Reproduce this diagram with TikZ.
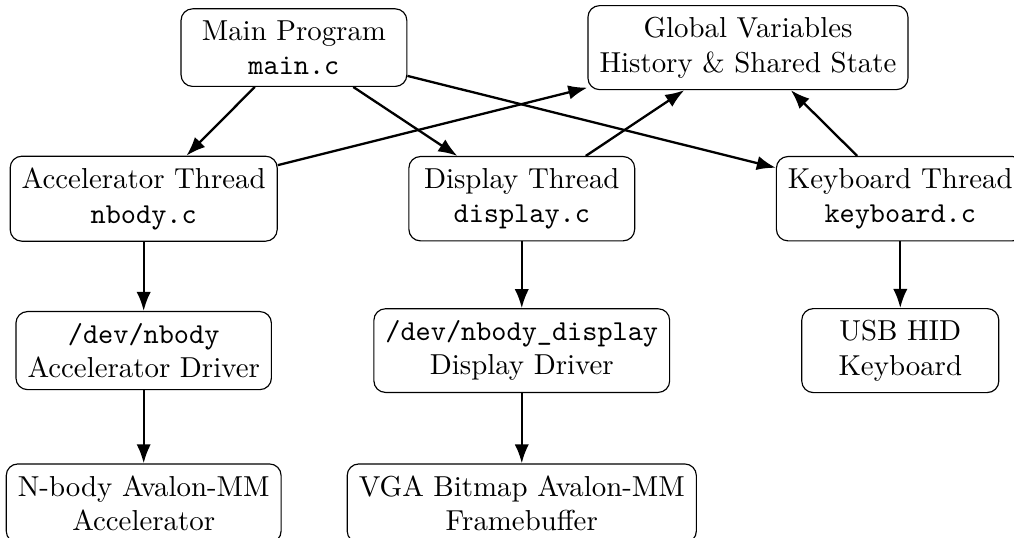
\documentclass[tikz,border=0pt]{standalone}
\usetikzlibrary{arrows.meta}
\begin{document}
\begin{tikzpicture}[>={Latex},
    box/.style={draw, rounded corners, align=center, inner sep=4pt, minimum width=2.4cm},
    widebox/.style={box, minimum width=2.75cm},
    link/.style={->, thick}]
    \useasboundingbox (-1.75,-5.97) rectangle (10.6,0.58);
    % top row
    \node[widebox] (main) at (1.83,0) {Main Program\\\texttt{main.c}};
    \node[box] (globals) at (7.36,0) {Global Variables\\History \& Shared State};
    % threads
    \node[box] (accthread) at (0,-1.84) {Accelerator Thread\\\texttt{nbody.c}};
    \node[widebox] (dispthread) at (4.605,-1.84) {Display Thread\\\texttt{display.c}};
    \node[box] (kbdthread) at (9.215,-1.84) {Keyboard Thread\\\texttt{keyboard.c}};
    % drivers
    \node[box] (accdrv) at (0,-3.69) {\texttt{/dev/nbody}\\Accelerator Driver};
    \node[box] (dispdrv) at (4.605,-3.69) {\texttt{/dev/nbody\_display}\\Display Driver};
    \node[box] (usbkbd) at (9.215,-3.69) {USB HID\\Keyboard};
    % hardware
    \node[box] (acchw) at (0,-5.55) {N-body Avalon-MM\\Accelerator};
    \node[box] (vgahw) at (4.605,-5.55) {VGA Bitmap Avalon-MM\\Framebuffer};
    \draw[link] (main) -- (accthread);
    \draw[link] (main) -- (dispthread);
    \draw[link] (main) -- (kbdthread);
    \draw[link] (accthread) -- (globals);
    \draw[link] (dispthread) -- (globals);
    \draw[link] (kbdthread) -- (globals);
    \draw[link] (accthread) -- (accdrv);
    \draw[link] (accdrv) -- (acchw);
    \draw[link] (dispthread) -- (dispdrv);
    \draw[link] (dispdrv) -- (vgahw);
    \draw[link] (kbdthread) -- (usbkbd);
\end{tikzpicture}
\end{document}
